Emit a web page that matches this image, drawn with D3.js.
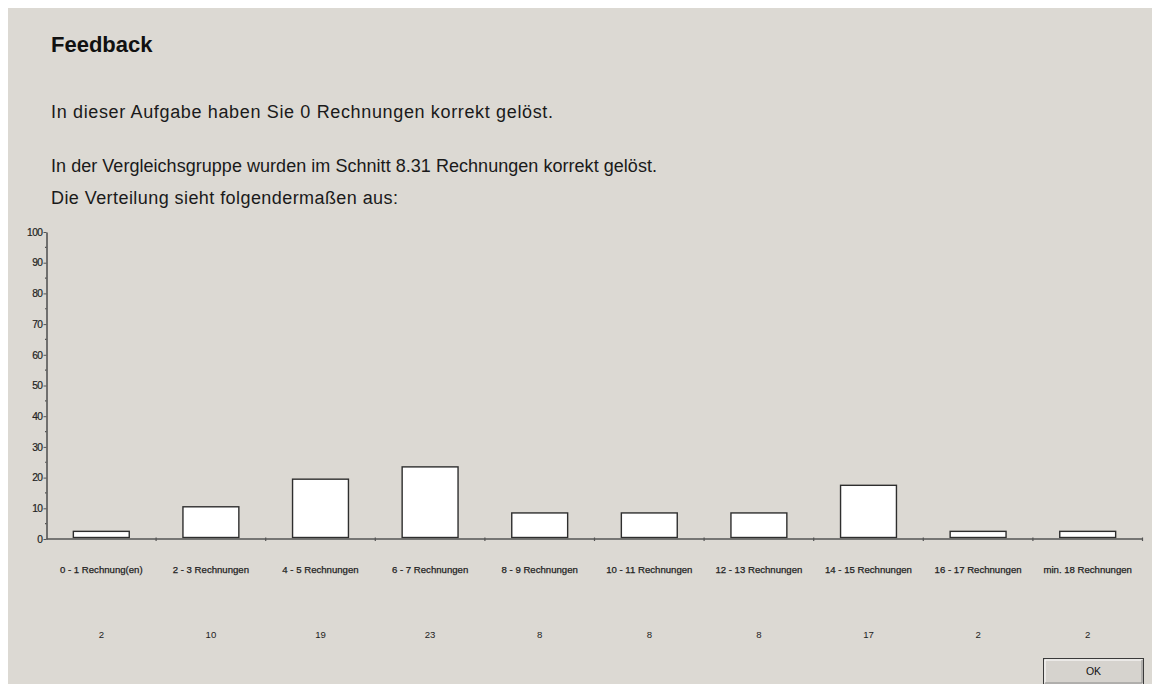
<!DOCTYPE html>
<html>
<head>
<meta charset="utf-8">
<script src="https://cdn.jsdelivr.net/npm/d3@7"></script>
<style>
  html, body { margin: 0; padding: 0; background: #ffffff; }
  svg { display: block; }
  text { font-family: "Liberation Sans", Arial, sans-serif; }
</style>
</head>
<body>
<svg id="chart" width="1152" height="684"></svg>
<script>
const categories = ["0 - 1 Rechnung(en)", "2 - 3 Rechnungen", "4 - 5 Rechnungen", "6 - 7 Rechnungen",
  "8 - 9 Rechnungen", "10 - 11 Rechnungen", "12 - 13 Rechnungen", "14 - 15 Rechnungen",
  "16 - 17 Rechnungen", "min. 18 Rechnungen"];
const percents = [2, 10, 19, 23, 8, 8, 8, 17, 2, 2];
const yTicks = [0, 10, 20, 30, 40, 50, 60, 70, 80, 90, 100];
const yMinorTicks = [5, 15, 25, 35, 45, 55, 65, 75, 85, 95];
const title = "Feedback";
const lines = [
  "In dieser Aufgabe haben Sie 0 Rechnungen korrekt gelöst.",
  "In der Vergleichsgruppe wurden im Schnitt 8.31 Rechnungen korrekt gelöst.",
  "Die Verteilung sieht folgendermaßen aus:"
];

const svg = d3.select("#chart");
svg.append("rect").attr("x", 8).attr("y", 8).attr("width", 1144).attr("height", 676).attr("fill", "#dcd9d3");

svg.append("text").attr("x", 51).attr("y", 52).attr("font-size", 22).attr("font-weight", "bold")
  .attr("fill", "#111").text(title);
const lineY = [117.5, 171.5, 203.5];
const lineW = [502, 606, 347];
lines.forEach((t, i) => {
  svg.append("text").attr("x", 51).attr("y", lineY[i]).attr("font-size", 18).attr("fill", "#1a1a1a")
    .attr("textLength", lineW[i]).attr("lengthAdjust", "spacing").text(t);
});

const x0 = 46.5, x1 = 1142.5;
const x = d3.scaleBand().domain(categories).range([x0, x1]).padding(0);
const y = d3.scaleLinear().domain([0, 100]).range([539, 232]);
const barFrac = 0.51;

const g = svg.append("g");

// bars
g.selectAll("rect.bar").data(percents).enter().append("rect")
  .attr("class", "bar")
  .attr("x", (d, i) => x(categories[i]) + x.bandwidth() * (1 - barFrac) / 2)
  .attr("width", x.bandwidth() * barFrac)
  .attr("y", d => y(d) - 1.5)
  .attr("height", d => y(0) - y(d))
  .attr("fill", "#ffffff").attr("stroke", "#2e2e2e").attr("stroke-width", 1.4);

// y axis
const yAxis = d3.axisLeft(y).tickValues(yTicks).tickSize(3).tickSizeOuter(0).tickPadding(1);
const ya = g.append("g").attr("transform", `translate(${x0},0)`).call(yAxis);
ya.select(".domain").attr("stroke", "#555").attr("stroke-width", 1.6);
ya.selectAll(".tick line").attr("stroke", "#555");
ya.selectAll(".tick text").attr("font-size", 10.2).attr("fill", "#222")
  .attr("font-family", "Liberation Sans, Arial, sans-serif").attr("letter-spacing", -0.5)
  .attr("stroke", "#222").attr("stroke-width", 0.2);
g.selectAll("line.minor").data(yMinorTicks).enter().append("line")
  .attr("x1", x0 - 1.5).attr("x2", x0).attr("y1", d => y(d)).attr("y2", d => y(d))
  .attr("stroke", "#555").attr("stroke-width", 1.2);

// x axis
g.append("line").attr("x1", x0).attr("x2", x1).attr("y1", y(0)).attr("y2", y(0))
  .attr("stroke", "#555").attr("stroke-width", 1.4);
const bounds = categories.map(c => x(c) + x.bandwidth());
g.selectAll("line.xt").data(bounds).enter().append("line")
  .attr("x1", d => d).attr("x2", d => d).attr("y1", y(0) - 1.5).attr("y2", y(0) + 2)
  .attr("stroke", "#555").attr("stroke-width", 1.2);

// category labels
g.selectAll("text.cat").data(categories).enter().append("text")
  .attr("x", c => x(c) + x.bandwidth() / 2).attr("y", 572.5)
  .attr("text-anchor", "middle").attr("font-size", 9.6).attr("fill", "#222")
  .attr("stroke", "#222").attr("stroke-width", 0.25)
  .text(c => c);

// value labels
g.selectAll("text.val").data(percents).enter().append("text")
  .attr("x", (d, i) => x(categories[i]) + x.bandwidth() / 2).attr("y", 637.5)
  .attr("text-anchor", "middle").attr("font-size", 9.6).attr("fill", "#222")
  .text(d => d);

// OK button
const btn = svg.append("g").attr("transform", "translate(1043,658)");
btn.append("rect").attr("x", 0.5).attr("y", 0.5).attr("width", 100).attr("height", 26)
  .attr("fill", "#d6d3ce").attr("stroke", "#3a3a3a").attr("stroke-width", 1);
btn.append("path").attr("d", "M2,25 L2,2 L99,2").attr("fill", "none").attr("stroke", "#ffffff").attr("stroke-width", 1);
btn.append("path").attr("d", "M2,25 L99,25 L99,2").attr("fill", "none").attr("stroke", "#8a8a8a").attr("stroke-width", 1);
btn.append("text").attr("x", 50.5).attr("y", 17).attr("text-anchor", "middle")
  .attr("font-size", 10.5).attr("fill", "#111").text("OK");
</script>
</body>
</html>
